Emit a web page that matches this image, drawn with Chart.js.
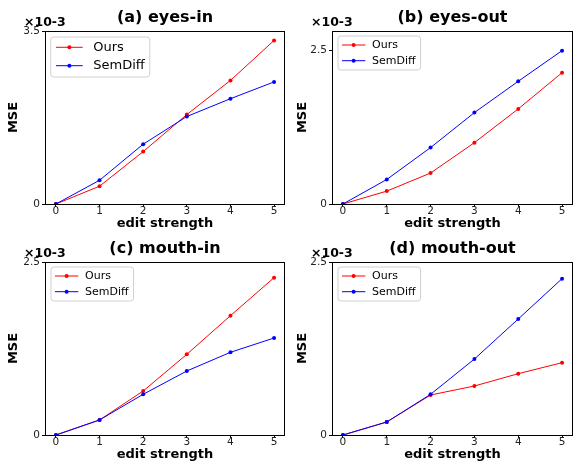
<!DOCTYPE html>
<html><head><meta charset="utf-8">
<script src="https://cdn.jsdelivr.net/npm/chart.js@4.4.1/dist/chart.umd.min.js"></script>
<style>
html,body{margin:0;padding:0;background:#fff;}
body{width:576px;height:462px;position:relative;overflow:hidden;}
canvas{position:absolute;}
</style></head><body>
<canvas id="c0" width="289" height="231" style="left:0px;top:0px;width:289px;height:231px"></canvas>
<canvas id="c1" width="289" height="231" style="left:288px;top:0px;width:289px;height:231px"></canvas>
<canvas id="c2" width="289" height="231" style="left:0px;top:231px;width:289px;height:231px"></canvas>
<canvas id="c3" width="289" height="231" style="left:288px;top:231px;width:289px;height:231px"></canvas>
<script>
// ---- data (values in units of 1e-3) ----
const strengths = [0, 1, 2, 3, 4, 5];
const xTickLabels = ['0', '1', '2', '3', '4', '5'];
const panelTitles = ['(a) eyes-in', '(b) eyes-out', '(c) mouth-in', '(d) mouth-out'];
const seriesNames = ['Ours', 'SemDiff'];
const oursEyesIn = [0, 0.36, 1.06, 1.81, 2.50, 3.31];
const semdiffEyesIn = [0, 0.48, 1.21, 1.77, 2.13, 2.47];
const oursEyesOut = [0, 0.21, 0.505, 1.00, 1.55, 2.14];
const semdiffEyesOut = [0, 0.40, 0.92, 1.49, 2.00, 2.50];
const oursMouthIn = [0, 0.217, 0.636, 1.166, 1.724, 2.274];
const semdiffMouthIn = [0, 0.217, 0.588, 0.925, 1.195, 1.402];
const oursMouthOut = [0, 0.188, 0.578, 0.708, 0.886, 1.045];
const semdiffMouthOut = [0, 0.188, 0.588, 1.098, 1.676, 2.259];
const yMaxValues = [3.5, 2.82, 2.5, 2.5];
const yTickValues = [[0, 3.5], [0, 2.5], [0, 2.5], [0, 2.5]];
const yTickLabels = [['0', '3.5'], ['0', '2.5'], ['0', '2.5'], ['0', '2.5']];
const exponentLabel = '\u00d710-3';
const xAxisTitle = 'edit strength';
const yAxisTitle = 'MSE';

const FAM = '"DejaVu Sans", sans-serif';
const RED = '#ff0000', BLUE = '#0000ff';

const bigLegend = {fs: 13, boxL: 5.7, boxT: 6, lineL: 11, lineLen: 26.7, textX: 48.3, rows: [16.3, 34.7], boxB: 46};
const smallLegend = {fs: 11, boxL: 6, boxT: 5, lineL: 10, lineLen: 23.3, textX: 40, rows: [14, 29.7], boxB: 39};

const decor = {
  id: 'decor',
  afterDraw(chart, args, o) {
    const ctx = chart.ctx, ca = chart.chartArea;
    const L = Math.round(ca.left), T = Math.round(ca.top), R = Math.round(ca.right), B = Math.round(ca.bottom);
    ctx.save();
    // frame
    ctx.strokeStyle = '#000'; ctx.lineWidth = 1;
    ctx.strokeRect(L + 0.5, T + 0.5, R - L - 1, B - T);
    // title
    ctx.fillStyle = '#000';
    ctx.font = 'bold 16px ' + FAM;
    ctx.textAlign = 'center'; ctx.textBaseline = 'alphabetic';
    ctx.fillText(o.title, (ca.left + ca.right) / 2, 22);
    // exponent
    ctx.font = 'bold 12.5px ' + FAM;
    ctx.textAlign = 'left';
    ctx.fillText(exponentLabel, L - 21, 26);
    // legend
    const lg = o.legend;
    ctx.font = lg.fs + 'px ' + FAM;
    const ds = chart.data.datasets;
    let maxW = 0;
    ds.forEach(d => { maxW = Math.max(maxW, ctx.measureText(d.label).width); });
    const bx = L + lg.boxL, by = T + lg.boxT, bw = lg.textX + maxW + 5 - lg.boxL, bh = lg.boxB - lg.boxT;
    const r = 3;
    ctx.beginPath();
    ctx.moveTo(bx + r, by);
    ctx.arcTo(bx + bw, by, bx + bw, by + bh, r);
    ctx.arcTo(bx + bw, by + bh, bx, by + bh, r);
    ctx.arcTo(bx, by + bh, bx, by, r);
    ctx.arcTo(bx, by, bx + bw, by, r);
    ctx.closePath();
    ctx.fillStyle = 'rgba(255,255,255,0.8)';
    ctx.fill();
    ctx.strokeStyle = '#d0d0d0'; ctx.lineWidth = 1;
    ctx.stroke();
    ds.forEach((d, k) => {
      const y = T + lg.rows[k];
      ctx.strokeStyle = d.borderColor; ctx.lineWidth = 1;
      ctx.beginPath(); ctx.moveTo(L + lg.lineL, y); ctx.lineTo(L + lg.lineL + lg.lineLen, y); ctx.stroke();
      ctx.fillStyle = d.borderColor;
      ctx.beginPath(); ctx.arc(L + lg.lineL + lg.lineLen / 2, y, 2, 0, Math.PI * 2); ctx.fill();
      ctx.fillStyle = '#000'; ctx.textAlign = 'left'; ctx.textBaseline = 'middle';
      ctx.fillText(d.label, L + lg.textX, y);
    });
    ctx.restore();
  }
};

function makePanel(i, id, ours, semdiff, leftW, yTitlePad, legend) {
  new Chart(document.getElementById(id), {
    type: 'line',
    data: {
      labels: strengths,
      datasets: [
        {label: seriesNames[0], data: strengths.map((x, k) => ({x: x, y: ours[k]})), borderColor: RED, backgroundColor: RED,
         borderWidth: 1, pointRadius: 2, pointBorderWidth: 0, pointBackgroundColor: RED, tension: 0, order: 2},
        {label: seriesNames[1], data: strengths.map((x, k) => ({x: x, y: semdiff[k]})), borderColor: BLUE, backgroundColor: BLUE,
         borderWidth: 1, pointRadius: 2, pointBorderWidth: 0, pointBackgroundColor: BLUE, tension: 0, order: 1}
      ]
    },
    options: {
      responsive: false, animation: false, devicePixelRatio: 1, events: [],
      layout: {padding: {top: 31, left: 0, right: 0, bottom: 0}},
      plugins: {legend: {display: false}, tooltip: {enabled: false}, title: {display: false},
        decor: {title: panelTitles[i], legend: legend}},
      scales: {
        x: {
          type: 'linear', min: -0.25, max: 5.25,
          afterBuildTicks: s => { s.ticks = strengths.map(v => ({value: v})); },
          afterFit: s => { s.height = 27; },
          ticks: {callback: (v, idx) => xTickLabels[idx], font: {family: FAM, size: 10.5, lineHeight: 1}, color: '#222',
                  padding: -1, maxRotation: 0, autoSkip: false},
          grid: {drawOnChartArea: false, drawTicks: true, tickLength: 3, color: '#000', lineWidth: 1},
          border: {display: false},
          title: {display: true, text: xAxisTitle, color: '#000', font: {family: FAM, size: 13, weight: 'bold', lineHeight: 1.2}, padding: {top: 0, bottom: 0}}
        },
        y: {
          min: 0, max: yMaxValues[i],
          afterBuildTicks: s => { s.ticks = yTickValues[i].map(v => ({value: v})); },
          afterFit: s => { s.width = leftW; },
          ticks: {callback: (v, idx) => yTickLabels[i][idx], font: {family: FAM, size: 10.5, lineHeight: 1}, color: '#222', padding: 2, autoSkip: false},
          grid: {drawOnChartArea: false, drawTicks: true, tickLength: 3, color: '#000', lineWidth: 1},
          border: {display: false},
          title: {display: true, text: yAxisTitle, color: '#000', font: {family: FAM, size: 13, weight: 'bold', lineHeight: 1.2}, padding: {top: yTitlePad, bottom: 0}}
        }
      }
    },
    plugins: [decor]
  });
}

makePanel(0, 'c0', oursEyesIn, semdiffEyesIn, 45, 6, bigLegend);
makePanel(1, 'c1', oursEyesOut, semdiffEyesOut, 44, 7, smallLegend);
makePanel(2, 'c2', oursMouthIn, semdiffMouthIn, 45, 6, smallLegend);
makePanel(3, 'c3', oursMouthOut, semdiffMouthOut, 44, 7, smallLegend);
</script>
</body></html>
